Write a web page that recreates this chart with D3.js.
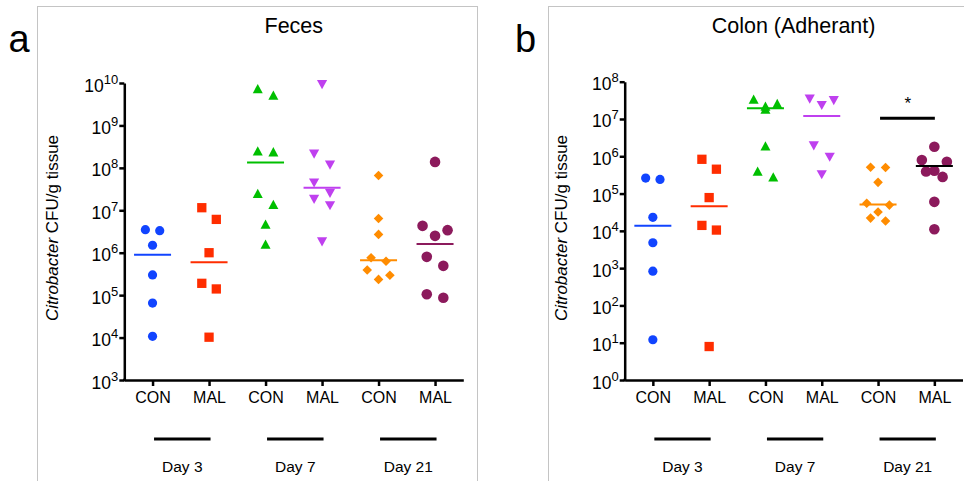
<!DOCTYPE html>
<html lang="en">
<head>
    <meta charset="UTF-8">
    <title>Citrobacter CFU</title>
    <script src="https://d3js.org/d3.v7.min.js"></script>
    <style>
        body { margin: 0; background: #fff; }
        svg { display: block; font-family: "Liberation Sans", Arial, sans-serif; }
    </style>
</head>
<body>
<svg></svg>
<script>
    // groups along the x axis
    const groups = ["CON", "MAL", "CON", "MAL", "CON", "MAL"];
    const days = ["Day 3", "Day 7", "Day 21"];

    // panel a - feces, CFU/g per animal
    const fecesValues = [
        [3.5e6, 3.3e6, 1.5e6, 3.0e5, 6.5e4, 1.07e4],
        [1.15e7, 6.1e6, 1.0e6, 1.9e5, 1.4e5, 1.02e4],
        [7.4e9, 5.2e9, 2.5e8, 2.4e8, 2.5e7, 1.38e7, 4.7e6, 1.6e6],
        [9.2e9, 2.1e8, 1.16e8, 4.4e7, 2.5e7, 1.8e7, 1.28e7, 1.8e6],
        [6.6e7, 6.4e6, 2.7e6, 7.6e5, 6.3e5, 3.9e5, 2.95e5, 2.35e5],
        [1.38e8, 4.3e6, 3.4e6, 2.5e6, 8.0e5, 4.9e5, 1.05e5, 8.7e4]
    ];
    const fecesMedians = [9.0e5, 5.95e5, 1.34e8, 3.4e7, 6.6e5, 1.6e6];
    const fecesTicks = [1e3, 1e4, 1e5, 1e6, 1e7, 1e8, 1e9, 1e10];

    // panel b - colon (adherant)
    const colonValues = [
        [2.6e5, 2.4e5, 2.3e4, 4.8e3, 8.3e2, 12],
        [8.3e5, 4.5e5, 7.8e4, 1.4e4, 1.05e4, 7.9],
        [3.4e7, 2.6e7, 2.2e7, 1.85e7, 1.9e6, 4.0e5, 2.8e5],
        [3.4e7, 3.1e7, 2.3e7, 1.9e6, 9.4e5, 3.2e5],
        [5.1e5, 5.0e5, 2.0e5, 5.5e4, 4.9e4, 3.2e4, 2.2e4, 1.84e4],
        [1.8e6, 7.9e5, 7.1e5, 4.1e5, 3.9e5, 2.8e5, 6.0e4, 1.1e4]
    ];
    const colonMedians = [1.38e4, 4.6e4, 1.94e7, 1.2e7, 5.1e4, 5.5e5];
    const colonTicks = [1e0, 1e1, 1e2, 1e3, 1e4, 1e5, 1e6, 1e7, 1e8];
    const colonSig = {from: 4, to: 5, level: 1.05e7, label: "*"};

    const colors = ["#1144ff", "#ff2d00", "#00bf00", "#bf40ef", "#ff8c00", "#8c1a5c"];

    // marker shapes, size = bounding width squared
    const upTri = {draw(ctx, size) {
        const w = Math.sqrt(size) / 2, h = w * 0.93;
        ctx.moveTo(0, -h); ctx.lineTo(w, h); ctx.lineTo(-w, h); ctx.closePath();
    }};
    const downTri = {draw(ctx, size) {
        const w = Math.sqrt(size) / 2, h = w * 0.9;
        ctx.moveTo(-w, -h); ctx.lineTo(w, -h); ctx.lineTo(0, h); ctx.closePath();
    }};
    const diamond = {draw(ctx, size) {
        const w = Math.sqrt(size) / 2;
        ctx.moveTo(0, -w); ctx.lineTo(w, 0); ctx.lineTo(0, w); ctx.lineTo(-w, 0); ctx.closePath();
    }};
    const box = {draw(ctx, size) {
        const w = Math.sqrt(size) / 2;
        ctx.rect(-w, -w, 2 * w, 2 * w);
    }};
    const disc = {draw(ctx, size) {
        const r = Math.sqrt(size) / 2;
        ctx.moveTo(r, 0); ctx.arc(0, 0, r, 0, 2 * Math.PI);
    }};
    const shapes = [disc, box, upTri, downTri, diamond, disc];
    const widths = [9.2, 9.3, 10, 10.2, 9.6, 10.6];

    const svg = d3.select("svg").attr("width", 964).attr("height", 481);

    // stack close values into rows, like a column scatter plot
    function spread(vals, y, w) {
        const pts = vals.map(v => ({v: v, py: y(v)})).sort((a, b) => a.py - b.py);
        const rows = [];
        pts.forEach(p => {
            const row = rows[rows.length - 1];
            if (row && row.length < 3 && p.py - row[0].py < 12) row.push(p);
            else rows.push([p]);
        });
        const off = {1: [0], 2: [-0.78 * w, 0.78 * w], 3: [-1.18 * w, 1.18 * w, 0]};
        rows.forEach(r => r.forEach((p, i) => p.dx = off[r.length][i]));
        return pts;
    }

    function drawPanel(cfg) {
        const g = svg.append("g");

        g.append("rect")
            .attr("x", cfg.box[0] + 0.5).attr("y", 6.5)
            .attr("width", cfg.box[1] - cfg.box[0]).attr("height", 520)
            .attr("fill", "none").attr("stroke", "#c4c4c4");

        g.append("text").attr("x", cfg.letterX).attr("y", 52)
            .attr("font-size", 38).text(cfg.letter);

        const x = d3.scalePoint().domain(d3.range(groups.length))
            .range(cfg.xRange).padding(0.5);
        const y = d3.scaleLog().domain(d3.extent(cfg.ticks)).range(cfg.yRange);

        g.append("text")
            .attr("x", (cfg.xRange[0] + cfg.xRange[1]) / 2).attr("y", 33)
            .attr("text-anchor", "middle").attr("font-size", 21.5)
            .text(cfg.title);

        // y axis
        const yAxis = g.append("g")
            .attr("transform", `translate(${cfg.xRange[0]},0)`)
            .call(d3.axisLeft(y).tickValues(cfg.ticks).tickSize(5).tickSizeOuter(0).tickFormat(""));
        yAxis.selectAll("text").remove();
        yAxis.selectAll(".tick").each(function (d) {
            const t = d3.select(this).append("text")
                .attr("x", -6).attr("y", 8)
                .attr("text-anchor", "end").attr("fill", "#000");
            t.append("tspan").attr("font-size", 17.5).text("10");
            t.append("tspan").attr("font-size", 13).attr("dy", -8)
                .text(Math.round(Math.log10(d)));
        });

        // x axis
        const xAxis = g.append("g")
            .attr("transform", `translate(0,${cfg.yRange[0]})`)
            .call(d3.axisBottom(x).tickSize(6).tickSizeOuter(0).tickFormat(i => groups[i]));
        xAxis.selectAll("text").attr("y", 23).attr("dy", null)
            .attr("font-size", 16).attr("fill", "#000");

        [yAxis, xAxis].forEach(a => {
            a.select(".domain").attr("stroke-width", 2.5).attr("stroke", "#000");
            a.selectAll(".tick line").attr("stroke-width", 2.5).attr("stroke", "#000");
        });
        g.append("path")
            .attr("d", `M${cfg.xRange[0] - 1.25},${cfg.yRange[0]}H${cfg.xRange[0] + 1}`)
            .attr("stroke", "#000").attr("stroke-width", 2.5);

        // axis title
        const yt = g.append("text")
            .attr("transform", `translate(${cfg.titleX},228) rotate(-90)`)
            .attr("text-anchor", "middle").attr("font-size", 17);
        yt.append("tspan").attr("font-style", "italic").text("Citrobacter");
        yt.append("tspan").text(" CFU/g tissue");

        // day brackets
        days.forEach((day, k) => {
            const x0 = x(2 * k) + 1.5, x1 = x(2 * k + 1) + 1.5;
            g.append("line").attr("x1", x0).attr("x2", x1)
                .attr("y1", 439).attr("y2", 439)
                .attr("stroke", "#000").attr("stroke-width", 3);
            g.append("text").attr("x", (x0 + x1) / 2).attr("y", 472)
                .attr("text-anchor", "middle").attr("font-size", 15.5).text(day);
        });

        // points
        cfg.values.forEach((vals, i) => {
            const pts = spread(vals, y, widths[i]);
            g.append("g").selectAll("path")
                .data(pts)
                .join("path")
                .attr("d", d3.symbol().type(shapes[i]).size(widths[i] * widths[i]))
                .attr("transform", d => `translate(${x(i) + d.dx},${d.py})`)
                .attr("fill", colors[i]);
        });

        // medians
        g.append("g").selectAll("line")
            .data(cfg.medians)
            .join("line")
            .attr("x1", (d, i) => x(i) - 18.5)
            .attr("x2", (d, i) => x(i) + 18.5)
            .attr("y1", d => y(d)).attr("y2", d => y(d))
            .attr("stroke", (d, i) => (cfg.blackMedian === i ? "#000" : colors[i]))
            .attr("stroke-width", 2);

        if (cfg.sig) {
            const s = cfg.sig;
            g.append("line")
                .attr("x1", x(s.from) + 2).attr("x2", x(s.to) + 0.5)
                .attr("y1", y(s.level)).attr("y2", y(s.level))
                .attr("stroke", "#000").attr("stroke-width", 3);
            g.append("text")
                .attr("x", (x(s.from) + x(s.to)) / 2 + 1.5).attr("y", y(s.level) - 9)
                .attr("text-anchor", "middle").attr("font-size", 17).text(s.label);
        }
    }

    drawPanel({
        letter: "a", letterX: 8.5, box: [37, 477], title: "Feces",
        xRange: [124.3, 463.3], yRange: [380, 83], ticks: fecesTicks,
        values: fecesValues, medians: fecesMedians, titleX: 58
    });
    drawPanel({
        letter: "b", letterX: 515, box: [548, 1100], title: "Colon (Adherant)",
        xRange: [624.7, 962.5], yRange: [380, 81.7], ticks: colonTicks,
        values: colonValues, medians: colonMedians, titleX: 567,
        blackMedian: 5, sig: colonSig
    });
</script>
</body>
</html>
